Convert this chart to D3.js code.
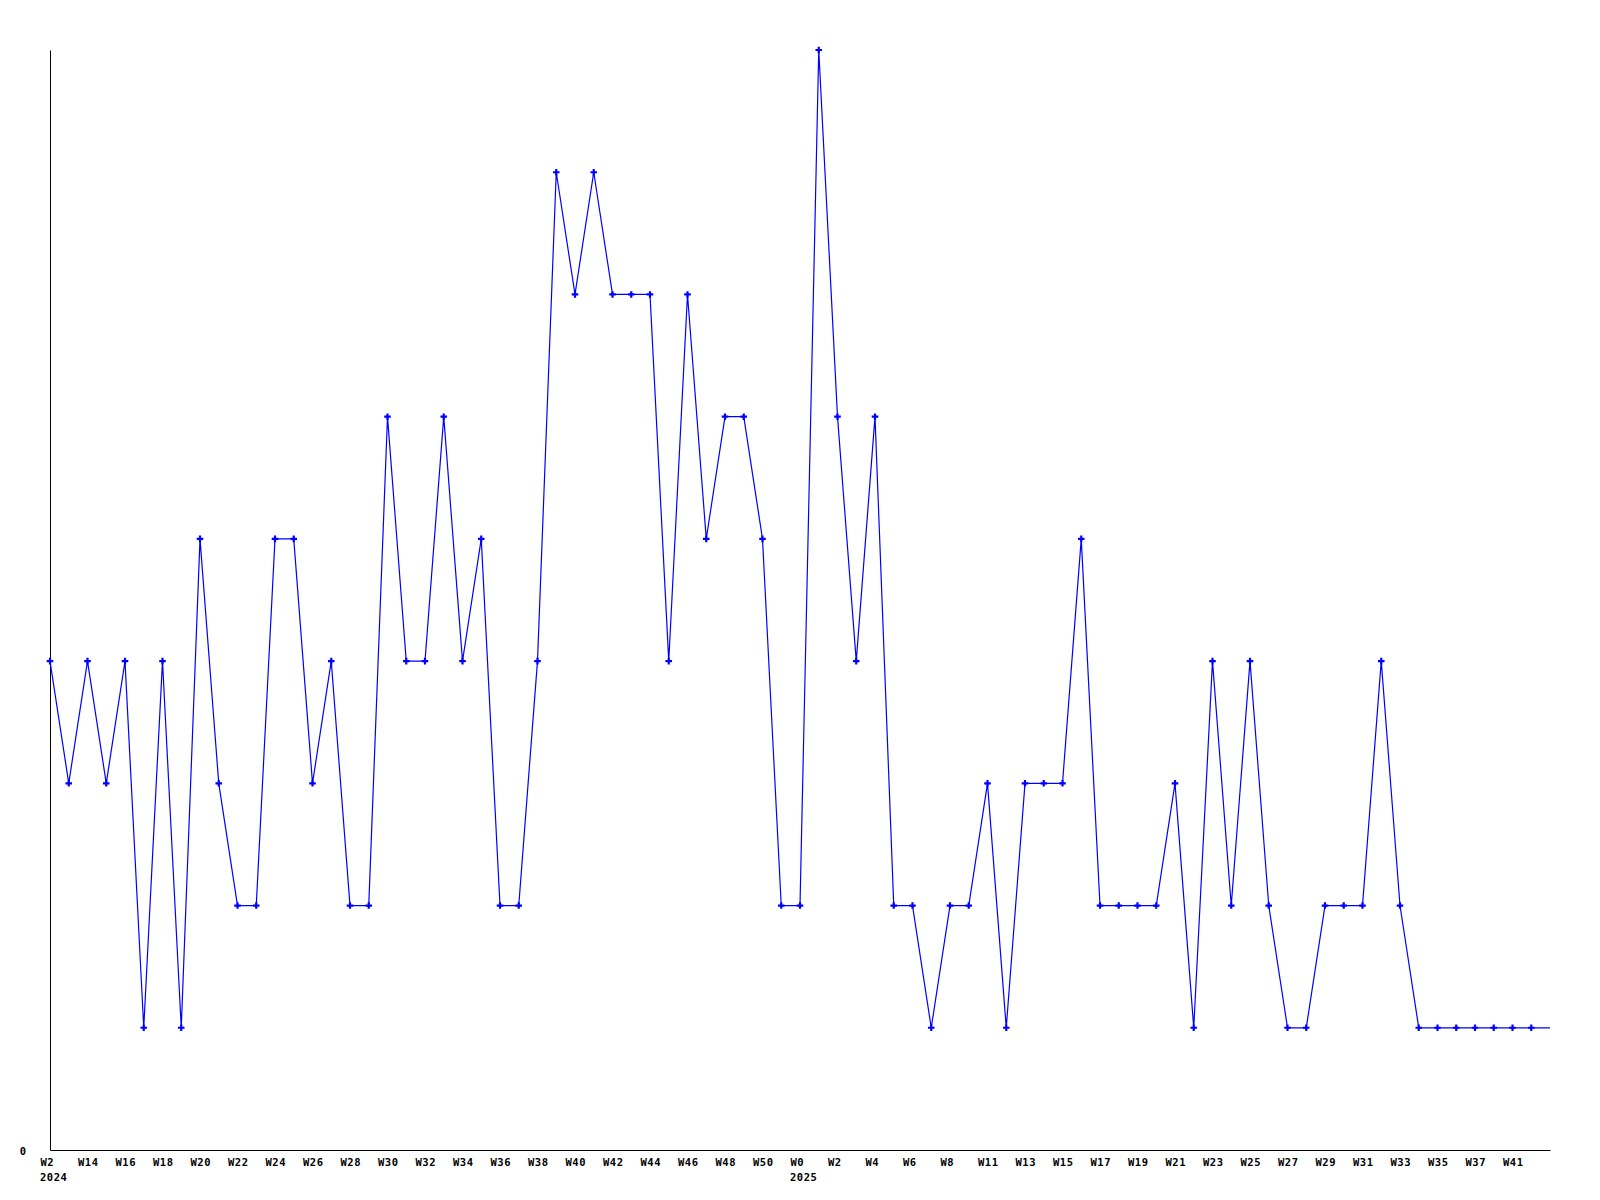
<!DOCTYPE html>
<html>
<head>
<meta charset="utf-8">
<script src="https://cdn.jsdelivr.net/npm/d3@7"></script>
<style>
  body { margin: 0; background: #fff; }
  svg text { font-family: "DejaVu Sans Mono", monospace; font-weight: bold; font-size: 10.5px; letter-spacing: 0.5px; fill: #000; }
</style>
</head>
<body>
<svg width="1600" height="1200"></svg>
<script>
// weekly counts, one per week (last one is the running week, drawn without marker)
var counts = [
  4, 3, 4, 3, 4, 1, 4, 1, 5, 3,
  2, 2, 5, 5, 3, 4, 2, 2, 6, 4,
  4, 6, 4, 5, 2, 2, 4, 8, 7, 8,
  7, 7, 7, 4, 7, 5, 6, 6, 5, 2,
  2, 9, 6, 4, 6, 2, 2, 1, 2, 2,
  3, 1, 3, 3, 3, 5, 2, 2, 2, 2,
  3, 1, 4, 2, 4, 2, 1, 1, 2, 2,
  2, 4, 2, 1, 1, 1, 1, 1, 1, 1,
  1
]

// tick labels, every second week
var weekLabels = [
  'W2', 'W14', 'W16', 'W18', 'W20', 'W22', 'W24', 'W26', 'W28', 'W30',
  'W32', 'W34', 'W36', 'W38', 'W40', 'W42', 'W44', 'W46', 'W48', 'W50',
  'W0', 'W2', 'W4', 'W6', 'W8', 'W11', 'W13', 'W15', 'W17', 'W19',
  'W21', 'W23', 'W25', 'W27', 'W29', 'W31', 'W33', 'W35', 'W37', 'W41'
]
var yearLabels = [ { index: 0, text: '2024' }, { index: 40, text: '2025' } ]

var yMax = 9

var svg = d3.select('svg'),
    plotLeft = 50, plotRight = 1550, plotTop = 50, plotBottom = 1150

var x = d3.scaleLinear().domain([0, counts.length - 1]).range([plotLeft, plotRight])
var y = d3.scaleLinear().domain([0, yMax]).range([plotBottom, plotTop])

// axes
var xAxis = d3.axisBottom(x)
    .tickValues(weekLabels.map(function(d, i) { return i * 2 }))
    .tickFormat(function(d) { return weekLabels[d / 2] })
    .tickSize(0)
    .tickPadding(0)

var gx = svg.append('g')
    .attr('transform', 'translate(0.5,' + (plotBottom + 0.5) + ')')
    .call(xAxis)
gx.select('.domain').attr('stroke', '#000').attr('d', 'M' + plotLeft + ',0H' + plotRight)
gx.selectAll('text')
    .attr('text-anchor', 'start')
    .attr('dx', -10.5)
    .attr('y', 15.5)
    .attr('dy', 0)
gx.attr('font-family', null).attr('font-size', null)

svg.append('g')
    .selectAll('text')
    .data(yearLabels)
    .enter().append('text')
      .attr('x', function(d) { return x(d.index) - 10 })
      .attr('y', plotBottom + 31)
      .text(function(d) { return d.text })

var yAxis = d3.axisLeft(y).tickValues([0]).tickSize(0).tickPadding(24)
var gy = svg.append('g')
    .attr('transform', 'translate(' + (plotLeft + 0.5) + ',0.5)')
    .call(yAxis)
gy.select('.domain').attr('stroke', '#000').attr('d', 'M0,' + plotTop + 'V' + plotBottom)
gy.selectAll('text').attr('dy', '0.4em')
gy.attr('font-family', null).attr('font-size', null)

// line
var line = d3.line()
    .x(function(d, i) { return x(i) })
    .y(function(d) { return y(d) })

svg.append('path')
    .datum(counts)
    .attr('fill', 'none')
    .attr('stroke', '#0000ff')
    .attr('stroke-width', 1.2)
    .attr('d', line)

// markers (skip the running week)
svg.append('g')
  .selectAll('path')
  .data(counts.slice(0, -1))
  .enter().append('path')
    .attr('d', d3.symbol().type(d3.symbolCross).size(24))
    .attr('transform', function(d, i) { return 'translate(' + x(i) + ',' + y(d) + ')' })
    .attr('fill', '#0000ff')
</script>
</body>
</html>
